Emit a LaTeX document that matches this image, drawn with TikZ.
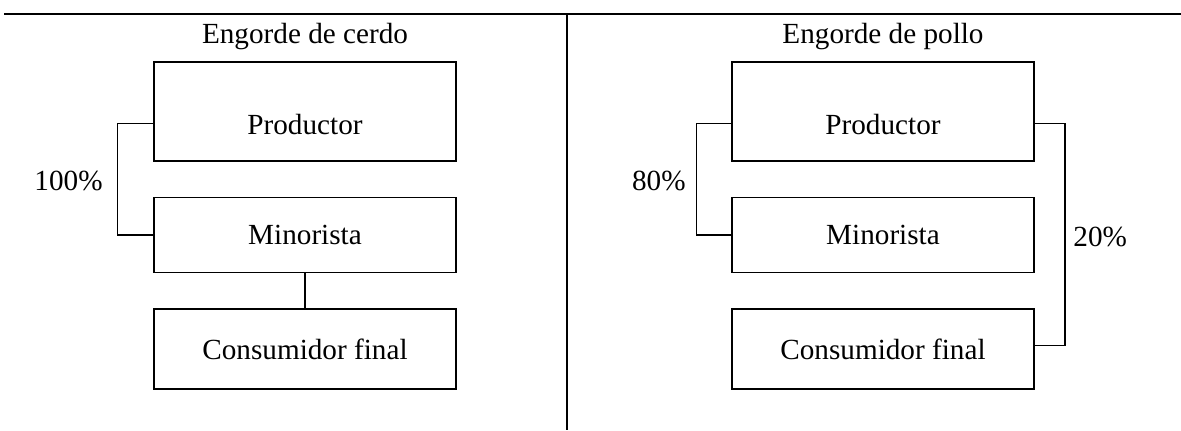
\documentclass[tikz,border=0pt]{standalone}
\usepackage{fontspec}
\setmainfont{Liberation Serif}
\usetikzlibrary{positioning}

\begin{document}
\begin{tikzpicture}[x=0.5pt, y=-0.5pt, node distance = 17.5pt]
\tikzstyle{box} = [draw, line width=0.8pt, minimum width=151pt, inner sep=0pt, font=\fontsize{14.6}{17}\selectfont]
\tikzstyle{topbox} = [box, minimum height=49.5pt, text height=23pt, text depth=0pt]
\tikzstyle{link} = [line width=0.7pt]
\tikzstyle{lbl} = [font=\fontsize{14.6}{17}\selectfont, inner sep=0pt]
\useasboundingbox (0,0) rectangle (1181,430);
% frame
\draw[line width=1.2pt] (4,14) -- (1181,14);
\draw[link] (567,14) -- (567,430);
% cerdo
\node[topbox] (prodc) at (305,111.5) {Productor};
\node[lbl, above=5.5pt of prodc] (titc) {Engorde de cerdo};
\node[box, minimum height=37.5pt, below=of prodc] (minc) {Minorista};
\node[box, minimum height=40pt, below=of minc] (consc) {Consumidor final};
\node[lbl, anchor=east] (pc) at (103,181) {100\%};
\draw[link] ([yshift=-6pt]prodc.west) -- ++(-18pt,0) |- (minc.west);
\draw[link] (minc) -- (consc);
% pollo
\node[topbox] (prodp) at (883,111.5) {Productor};
\node[lbl, above=5.5pt of prodp] (titp) {Engorde de pollo};
\node[box, minimum height=37.5pt, below=of prodp] (minp) {Minorista};
\node[box, minimum height=40pt, below=of minp] (consp) {Consumidor final};
\node[lbl, anchor=east] (pp1) at (686,181) {80\%};
\node[lbl, anchor=west] (pp2) at (1073,237) {20\%};
\draw[link] ([yshift=-6pt]prodp.west) -- ++(-17.5pt,0) |- (minp.west);
\draw[link] ([yshift=-6pt]prodp.east) -- ++(15pt,0) |- ([yshift=2pt]consp.east);
\end{tikzpicture}
\end{document}
